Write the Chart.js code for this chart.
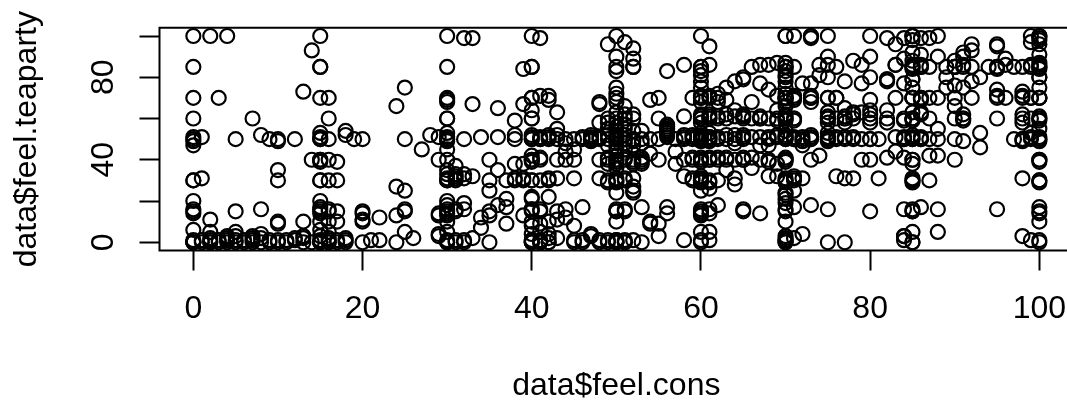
<!DOCTYPE html>
<html>
<head>
<meta charset="utf-8">
<script src="https://cdn.jsdelivr.net/npm/chart.js@4"></script>
<style>
  html, body { margin: 0; padding: 0; background: #fff; overflow: hidden; width: 1067px; height: 400px; }
  canvas { display: block; }
</style>
</head>
<body>
<canvas id="chart-scatter" width="1100" height="400"></canvas>
<script>
// [feel.cons, feel.teaparty], one list per stretch of the x axis
const cons0to14 = [
  [0,100],[0,85],[0,70],[0,60],[0,50],[0,51],[0,49],[0,47],[0,30],[0,30],[0,20],[0,16],[0,15],[0,14],[0,6],[0,1],[0,0],[0,0],[0,0],[0,0],
  [1,51],[1,31],[1,1],[1,0],[2,100],[2,11],[2,5],[2,2],[2,1],[2,0],[2,0],[3,70],[3,1],[3,0],[4,100],[4,3],[4,2],[4,1],[4,0],
  [5,50],[5,15],[5,5],[5,3],[5,1],[5,0],[6,1],[6,0],[7,60],[7,3],[7,2],[7,1],[7,0],[8,52],[8,16],[8,4],[8,2],[8,0],
  [9,50],[9,1],[9,0],[10,50],[10,49],[10,35],[10,30],[10,10],[10,9],[10,1],[10,0],[11,1],[11,0],[12,50],[12,2],[12,1],
  [13,73],[13,10],[13,3],[13,2],[13,0],[14,93],[14,40],[14,0]
];
const cons15to29 = [
  [15,100],[15,85],[15,85],[15,70],[15,53],[15,51],[15,50],[15,50],[15,40],[15,40],[15,39],[15,30],[15,30],[15,20],[15,17],[15,16],[15,15],[15,14],[15,10],[15,6],[15,3],[15,1],[15,0],[15,0],[15,0],[15,0],
  [16,70],[16,60],[16,50],[16,40],[16,30],[16,16],[16,15],[16,10],[16,5],[16,2],[16,1],[16,0],[16,0],
  [17,39],[17,30],[17,15],[17,10],[17,1],[17,0],[18,54],[18,52],[18,2],[18,1],[18,0],[19,50],[20,50],[20,15],[20,14],[20,11],[20,10],[20,0],
  [21,1],[22,12],[22,1],[24,66],[24,27],[24,13],[24,0],[25,75],[25,50],[25,25],[25,16],[25,15],[25,5],[26,2],[27,45],[28,52],[29,51],[29,40],[29,14],[29,13],[29,4],[29,3]
];
const cons30to39 = [
  [30,100],[30,85],[30,70],[30,69],[30,68],[30,60],[30,60],[30,53],[30,51],[30,50],[30,50],[30,49],[30,45],[30,40],[30,35],[30,33],[30,31],[30,30],[30,30],[30,20],[30,18],[30,16],[30,15],[30,14],[30,13],[30,10],[30,5],[30,1],[30,0],[30,0],[30,0],
  [31,37],[31,33],[31,32],[31,31],[31,30],[31,16],[31,15],[31,1],[31,0],[32,99],[32,50],[32,33],[32,31],[32,19],[32,16],[32,1],[32,0],[33,99],[33,67],[33,32],[33,2],
  [34,51],[34,12],[34,7],[35,40],[35,30],[35,25],[35,15],[35,13],[35,0],[36,65],[36,51],[36,35],[36,18],[37,30],[37,21],[37,17],[37,9],
  [38,59],[38,52],[38,50],[38,38],[38,31],[38,30],[39,84],[39,67],[39,38],[39,31],[39,30],[39,13]
];
const cons40to49 = [
  [40,100],[40,85],[40,85],[40,70],[40,70],[40,64],[40,60],[40,60],[40,52],[40,51],[40,50],[40,50],[40,42],[40,40],[40,40],[40,39],[40,30],[40,30],[40,22],[40,21],[40,16],[40,16],[40,15],[40,10],[40,8],[40,4],[40,1],[40,1],[40,0],[40,0],[40,0],
  [41,99],[41,71],[41,51],[41,50],[41,50],[41,41],[41,40],[41,30],[41,16],[41,15],[41,9],[41,5],[41,1],[41,0],[41,0],[41,0],
  [42,71],[42,69],[42,52],[42,51],[42,50],[42,31],[42,30],[42,22],[42,10],[42,4],[42,2],[42,0],[42,0],
  [43,63],[43,55],[43,52],[43,50],[43,40],[43,31],[43,15],[43,11],[43,2],[44,50],[44,48],[44,44],[44,40],[44,16],[44,12],
  [45,50],[45,45],[45,40],[45,31],[45,8],[45,1],[45,0],[46,51],[46,50],[46,17],[46,1],[46,0],[47,50],[47,50],[47,49],[47,52],[47,51],[47,4],[47,3],
  [48,68],[48,67],[48,58],[48,51],[48,50],[48,40],[48,31],[48,1],[48,0],[49,96],[49,60],[49,58],[49,55],[49,52],[49,50],[49,47],[49,41],[49,40],[49,38],[49,30],[49,29],[49,1],[49,0]
];
const cons50to59 = [
  [50,100],[50,90],[50,85],[50,83],[50,75],[50,72],[50,70],[50,68],[50,63],[50,60],[50,58],[50,56],[50,54],[50,52],[50,51],[50,50],[50,50],[50,50],[50,48],[50,46],[50,44],[50,42],[50,40],[50,40],[50,39],[50,38],[50,36],[50,31],[50,30],[50,30],[50,29],[50,24],[50,16],[50,15],[50,15],[50,10],[50,1],[50,1],[50,0],[50,0],[50,0],[50,0],
  [51,97],[51,66],[51,62],[51,60],[51,57],[51,55],[51,52],[51,50],[51,50],[51,48],[51,45],[51,41],[51,40],[51,31],[51,30],[51,16],[51,15],[51,1],[51,0],[51,0],
  [52,94],[52,89],[52,85],[52,85],[52,62],[52,60],[52,54],[52,50],[52,49],[52,47],[52,40],[52,39],[52,38],[52,31],[52,27],[52,25],[52,24],[52,1],
  [53,54],[53,50],[53,48],[53,41],[53,40],[53,39],[53,38],[53,17],[53,0],[54,69],[54,50],[54,43],[54,10],[54,9],[55,70],[55,60],[55,50],[55,40],[55,9],[55,3],
  [56,83],[56,57],[56,56],[56,55],[56,54],[56,53],[56,52],[56,51],[56,17],[56,14],[57,50],[57,44],[57,38],[58,86],[58,61],[58,52],[58,51],[58,50],[58,40],[58,32],[58,1],
  [59,70],[59,52],[59,51],[59,50],[59,41],[59,40],[59,31],[59,30]
];
const cons60to69 = [
  [60,100],[60,85],[60,85],[60,83],[60,81],[60,78],[60,75],[60,71],[60,70],[60,70],[60,68],[60,62],[60,61],[60,60],[60,60],[60,58],[60,53],[60,52],[60,51],[60,51],[60,50],[60,50],[60,49],[60,41],[60,40],[60,40],[60,39],[60,32],[60,31],[60,30],[60,30],[60,29],[60,25],[60,16],[60,15],[60,14],[60,13],[60,5],[60,1],[60,0],
  [61,95],[61,86],[61,71],[61,70],[61,62],[61,61],[61,60],[61,60],[61,53],[61,51],[61,51],[61,50],[61,50],[61,49],[61,41],[61,40],[61,40],[61,30],[61,29],[61,26],[61,16],[61,14],[61,5],[61,1],
  [62,72],[62,70],[62,68],[62,61],[62,60],[62,51],[62,50],[62,41],[62,40],[62,30],[62,18],[63,75],[63,69],[63,62],[63,60],[63,52],[63,50],[63,41],[63,40],[63,35],[64,78],[64,64],[64,61],[64,52],[64,50],[64,48],[64,40],[64,31],[64,28],
  [65,80],[65,79],[65,62],[65,61],[65,61],[65,60],[65,52],[65,51],[65,50],[65,41],[65,40],[65,40],[65,16],[65,15],[66,85],[66,68],[66,60],[66,51],[66,41],[66,36],[67,86],[67,77],[67,61],[67,60],[67,60],[67,51],[67,47],[67,40],[67,14],
  [68,86],[68,74],[68,60],[68,51],[68,50],[68,47],[68,40],[68,39],[68,32],[69,87],[69,71],[69,64],[69,60],[69,59],[69,52],[69,51],[69,38],[69,32]
];
const cons70to84 = [
  [70,100],[70,100],[70,87],[70,85],[70,85],[70,85],[70,83],[70,81],[70,80],[70,78],[70,75],[70,72],[70,70],[70,70],[70,70],[70,70],[70,68],[70,66],[70,62],[70,61],[70,60],[70,60],[70,59],[70,54],[70,52],[70,51],[70,51],[70,50],[70,50],[70,41],[70,40],[70,40],[70,39],[70,31],[70,30],[70,30],[70,29],[70,24],[70,23],[70,21],[70,19],[70,16],[70,15],[70,10],[70,3],[70,2],[70,1],[70,1],[70,0],[70,0],
  [71,100],[71,85],[71,71],[71,70],[71,69],[71,60],[71,60],[71,59],[71,51],[71,50],[71,50],[71,32],[71,31],[71,30],[71,25],[71,17],[71,2],
  [72,77],[72,51],[72,50],[72,49],[72,47],[72,31],[72,4],[73,100],[73,100],[73,99],[73,77],[73,71],[73,70],[73,70],[73,68],[73,52],[73,51],[73,50],[73,50],[73,40],[73,18],[74,86],[74,81],[74,42],
  [75,100],[75,90],[75,86],[75,80],[75,70],[75,70],[75,63],[75,61],[75,60],[75,60],[75,58],[75,53],[75,51],[75,51],[75,50],[75,50],[75,49],[75,16],[75,0],
  [76,85],[76,70],[76,70],[76,60],[76,51],[76,50],[76,32],[77,78],[77,65],[77,61],[77,60],[77,60],[77,58],[77,51],[77,50],[77,31],[77,0],[78,88],[78,63],[78,62],[78,60],[78,51],[78,50],[78,31],
  [79,86],[79,77],[79,63],[79,50],[79,40],[80,100],[80,90],[80,80],[80,69],[80,64],[80,62],[80,60],[80,58],[80,50],[80,50],[80,40],[80,15],
  [81,50],[81,31],[82,99],[82,79],[82,79],[82,78],[82,64],[82,60],[82,58],[82,41],[83,96],[83,86],[83,86],[83,70],[83,51],[83,44],
  [84,99],[84,89],[84,77],[84,60],[84,59],[84,51],[84,50],[84,50],[84,41],[84,16],[84,3],[84,3],[84,1]
];
const cons85to100 = [
  [85,100],[85,100],[85,100],[85,98],[85,92],[85,88],[85,86],[85,85],[85,85],[85,84],[85,79],[85,79],[85,75],[85,70],[85,70],[85,70],[85,70],[85,63],[85,60],[85,60],[85,60],[85,59],[85,52],[85,51],[85,50],[85,50],[85,40],[85,40],[85,38],[85,31],[85,30],[85,30],[85,29],[85,16],[85,15],[85,15],[85,5],[85,0],[85,0],
  [86,99],[86,91],[86,86],[86,85],[86,85],[86,70],[86,70],[86,69],[86,63],[86,62],[86,51],[86,50],[86,50],[86,17],
  [87,99],[87,85],[87,70],[87,60],[87,50],[87,42],[87,30],[88,100],[88,90],[88,70],[88,55],[88,50],[88,42],[88,16],[88,5],
  [89,85],[89,80],[89,75],[90,88],[90,85],[90,85],[90,85],[90,76],[90,70],[90,66],[90,60],[90,50],[90,40],
  [91,92],[91,90],[91,86],[91,85],[91,75],[91,62],[91,60],[91,60],[91,59],[91,49],[92,96],[92,93],[92,85],[92,78],[92,70],[93,80],[93,53],[93,46],
  [94,85],[95,96],[95,95],[95,85],[95,85],[95,84],[95,74],[95,71],[95,70],[95,60],[95,16],[96,89],[96,70],[96,86],[97,85],[97,50],[98,85],[98,73],[98,71],[98,70],[98,62],[98,60],[98,58],[98,50],[98,50],[98,49],[98,31],[98,3],
  [99,100],[99,97],[99,86],[99,85],[99,70],[99,70],[99,60],[99,53],[99,51],[99,50],[99,1],
  [100,100],[100,100],[100,99],[100,98],[100,96],[100,91],[100,87],[100,86],[100,85],[100,85],[100,84],[100,80],[100,80],[100,75],[100,70],[100,70],[100,70],[100,61],[100,60],[100,60],[100,59],[100,55],[100,51],[100,50],[100,50],[100,49],[100,40],[100,40],[100,39],[100,30],[100,30],[100,29],[100,17],[100,15],[100,14],[100,10],[100,1],[100,0]
];

const xTicks = [0, 20, 40, 60, 80, 100];
const yTicks = [0, 20, 40, 60, 80, 100];
const yTickLabels = [0, 40, 80];
const xLimits = [-4, 104];
const yLimits = [-4, 104];
const xTitle = 'data$feel.cons';
const yTitle = 'data$feel.teaparty';

const pairs = [].concat(cons0to14, cons15to29, cons30to39, cons40to49, cons50to59, cons60to69, cons70to84, cons85to100);
const FONT = "'Liberation Sans', Arial, sans-serif";

// R draws a full box, chart.js only the two axis borders
const boxPlugin = {
  id: 'box',
  afterDraw(chart) {
    const a = chart.chartArea, c = chart.ctx;
    c.save();
    c.strokeStyle = '#000';
    c.lineWidth = 2;
    c.strokeRect(a.left, a.top, a.right - a.left, a.bottom - a.top);
    c.restore();
  }
};

// tick labels must not push the plot area around
function noPadding(s) {
  s.paddingTop = s.paddingBottom = s.paddingLeft = s.paddingRight = 0;
}

new Chart(document.getElementById('chart-scatter').getContext('2d'), {
  type: 'scatter',
  data: {
    datasets: [{
      data: pairs.map(p => ({ x: p[0], y: p[1] })),
      pointStyle: 'circle',
      pointRadius: 7,
      pointBorderWidth: 2.2,
      pointBorderColor: '#000',
      pointBackgroundColor: 'rgba(0,0,0,0)',
    }],
  },
  options: {
    responsive: false, animation: false,
    layout: { padding: { top: 27.75, right: 26.8, left: 0, bottom: 0 } },
    plugins: { legend: { display: false }, tooltip: { enabled: false } },
    scales: {
      x: {
        type: 'linear', position: 'bottom',
        min: xLimits[0], max: xLimits[1],
        afterBuildTicks: s => { s.ticks = xTicks.map(v => ({ value: v })); },
        afterFit: s => { s.height = 149.5; noPadding(s); },
        grid: { drawOnChartArea: false, drawTicks: true, tickLength: 20, tickWidth: 2, tickColor: '#000' },
        border: { display: false },
        ticks: { color: '#000', padding: 19, maxRotation: 0, autoSkip: false, font: { family: FONT, size: 32 }, callback: v => String(v) },
        title: { display: true, text: xTitle, color: '#000', padding: { top: 0, bottom: -5.5 }, font: { family: FONT, size: 32 } },
      },
      y: {
        type: 'linear', position: 'left',
        min: yLimits[0], max: yLimits[1],
        afterBuildTicks: s => { s.ticks = yTicks.map(v => ({ value: v })); },
        afterFit: s => { s.width = 159.5; noPadding(s); },
        grid: { drawOnChartArea: false, drawTicks: true, tickLength: 20, tickWidth: 2, tickColor: '#000' },
        border: { display: false },
        ticks: { color: '#000', padding: 18, minRotation: 90, maxRotation: 90, crossAlign: 'center', autoSkip: false, font: { family: FONT, size: 32 }, callback: v => yTickLabels.includes(v) ? String(v) : '' },
        title: { display: true, text: yTitle, color: '#000', padding: { top: 8, bottom: 0 }, font: { family: FONT, size: 32 } },
      },
    },
  },
  plugins: [boxPlugin],
});
</script>
</body>
</html>
